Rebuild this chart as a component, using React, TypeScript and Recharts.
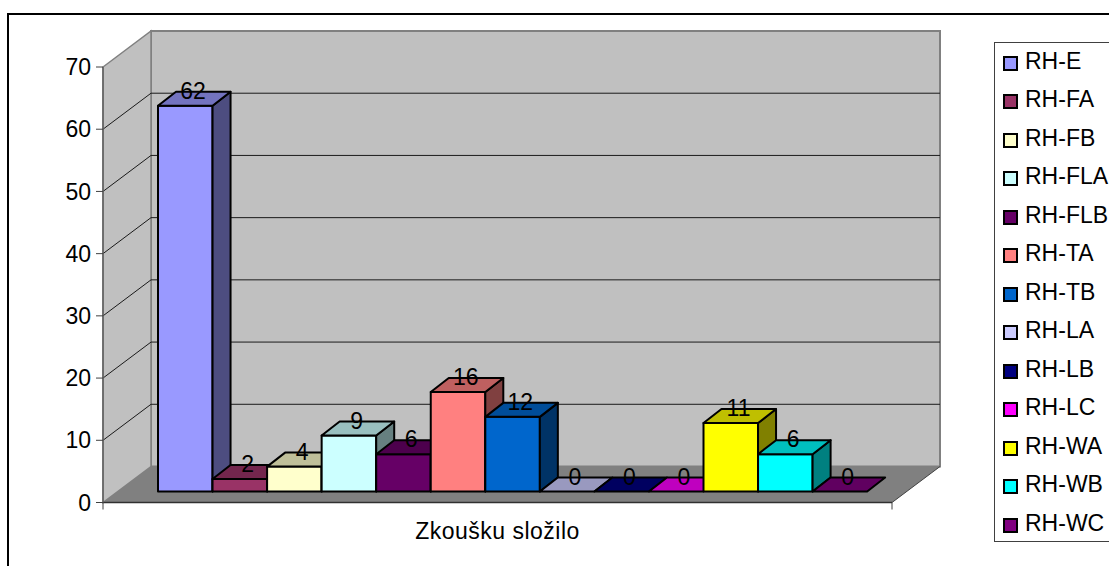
import { Bar, BarChart, CartesianGrid, LabelList, Legend, XAxis, YAxis, usePlotArea } from "recharts";

const CATEGORY = "Zkoušku složilo";
const SERIES_NAMES = ["RH-E", "RH-FA", "RH-FB", "RH-FLA", "RH-FLB", "RH-TA", "RH-TB", "RH-LA", "RH-LB", "RH-LC", "RH-WA", "RH-WB", "RH-WC"];
const SERIES_VALUES = [62, 2, 4, 9, 6, 16, 12, 0, 0, 0, 11, 6, 0];
const SERIES_COLORS = ["#9999ff", "#993366", "#ffffcc", "#ccffff", "#660066", "#ff8080", "#0066cc", "#ccccff", "#000080", "#ff00ff", "#ffff00", "#00ffff", "#800080"];
const Y_TICKS = [0, 10, 20, 30, 40, 50, 60, 70];

const FONT = "'Liberation Sans', Arial, sans-serif";
// depth of the chart box and of a single bar, and where bars sit inside the box
const BOX_DX = 48;
const BOX_DY = -36;
const BAR_DX = 18;
const BAR_DY = -14;
const SHIFT_X = 15;
const SHIFT_Y = -11;
// recharts rounds the bar width down, the gap carries the remainder
const BAR_GAP = 0.55;

const row: Record<string, string | number> = { name: CATEGORY };
SERIES_NAMES.forEach((n, i) => {
  row[n] = SERIES_VALUES[i];
});
const chartData = [row];

function shade(hex: string, k: number): string {
  const n = parseInt(hex.slice(1), 16);
  const c = [(n >> 16) & 255, (n >> 8) & 255, n & 255].map((v) => Math.round(v * k));
  return `rgb(${c[0]},${c[1]},${c[2]})`;
}

function pts(list: number[][]): string {
  return list.map((p) => p.join(",")).join(" ");
}

// walls and floor of the 3d box, taken from the plot area
function Box() {
  const plot = usePlotArea();
  if (!plot) return null;
  const l = plot.x;
  const r = plot.x + plot.width;
  const t = plot.y;
  const b = plot.y + plot.height;
  return (
    <g>
      <polygon points={pts([[l + BOX_DX, t + BOX_DY], [r + BOX_DX, t + BOX_DY], [r + BOX_DX, b + BOX_DY], [l + BOX_DX, b + BOX_DY]])} fill="#c0c0c0" stroke="#808080" strokeWidth={2} />
      <polygon points={pts([[l, t], [l + BOX_DX, t + BOX_DY], [l + BOX_DX, b + BOX_DY], [l, b]])} fill="#c0c0c0" stroke="#808080" strokeWidth={1.5} />
      <polygon points={pts([[l, b], [l + BOX_DX, b + BOX_DY], [r + BOX_DX, b + BOX_DY], [r, b]])} fill="#808080" />
      <line x1={l} y1={b} x2={l} y2={b + 7} stroke="#404040" />
      <line x1={r} y1={b} x2={r} y2={b + 7} stroke="#404040" />
      <line x1={r} y1={b} x2={r + BOX_DX} y2={b + BOX_DY} stroke="#404040" />
    </g>
  );
}

function GridLine(props: any) {
  const { x1, y1, x2, index } = props;
  if (index === 0 || index === Y_TICKS.length - 1) return <g />;
  return (
    <polyline
      points={pts([[x1, y1], [x1 + BOX_DX, y1 + BOX_DY], [x2 + BOX_DX, y1 + BOX_DY]])}
      fill="none"
      stroke="#1a1a1a"
      strokeWidth={1}
    />
  );
}

function Bar3D(props: any) {
  const { x, y, width, height, fill } = props;
  const l = x + SHIFT_X;
  const r = l + width + BAR_GAP;
  const t = y + SHIFT_Y;
  const b = t + height;
  return (
    <g stroke="#000" strokeWidth={2} strokeLinejoin="round">
      {height > 0 && <rect x={l} y={t} width={r - l} height={height} fill={fill} />}
      {height > 0 && <polygon points={pts([[r, t], [r + BAR_DX, t + BAR_DY], [r + BAR_DX, b + BAR_DY], [r, b]])} fill={shade(fill, 0.5)} />}
      <polygon points={pts([[l, t], [l + BAR_DX, t + BAR_DY], [r + BAR_DX, t + BAR_DY], [r, t]])} fill={shade(fill, 0.75)} />
    </g>
  );
}

function BarValue(props: any) {
  const { x, y, width, value } = props;
  return (
    <text x={x + width / 2 + SHIFT_X + 8} y={y + SHIFT_Y - 7} textAnchor="middle" fontFamily={FONT} fontSize={23} fill="#000">
      {value}
    </text>
  );
}

function LegendBox(props: any) {
  return (
    <div style={{ width: 116, height: 498, border: "1px solid #404040", background: "#fff", boxSizing: "content-box", position: "relative", fontFamily: FONT, fontSize: 23, color: "#000" }}>
      {props.payload.map((item: any, i: number) => (
        <div key={item.value} style={{ position: "absolute", left: 8, top: 3 + i * 38.5, height: 30, display: "flex", alignItems: "center", whiteSpace: "nowrap" }}>
          <span style={{ display: "inline-block", width: 11, height: 11, border: "2px solid #000", background: item.color, marginRight: 7, marginTop: 4 }} />
          {item.value}
        </div>
      ))}
    </div>
  );
}

export default function App() {
  return (
    <div style={{ position: "absolute", left: 0, top: 0, width: 1109, height: 566, overflow: "hidden", background: "#fff" }}>
      <div style={{ position: "absolute", left: 7, top: 13, width: 1200, height: 700, border: "2px solid #000", boxSizing: "border-box" }} />
      <div style={{ position: "absolute", left: 0, top: 0 }}>
        <BarChart width={1109} height={566} data={chartData} margin={{ top: 67, right: 99, bottom: 0, left: 8 }} barCategoryGap={40} barGap={BAR_GAP}>
          <Box />
          <CartesianGrid vertical={false} horizontal={GridLine} zIndex={1} />
          <XAxis dataKey="name" height={63.5} tickLine={false} axisLine={{ stroke: "#303030", strokeWidth: 1.5 }} tickMargin={14} tick={{ fontFamily: FONT, fontSize: 23, letterSpacing: 0.5, fill: "#000" }} />
          <YAxis width={95} domain={[0, 70]} ticks={Y_TICKS} interval={0} tickSize={7} tickMargin={5} tickLine={{ stroke: "#404040" }} axisLine={{ stroke: "#606060", strokeWidth: 1.5 }} tick={{ fontFamily: FONT, fontSize: 23, fill: "#000" }} />
          {SERIES_NAMES.map((n, i) => (
            <Bar key={n} dataKey={n} name={n} fill={SERIES_COLORS[i]} shape={Bar3D} isAnimationActive={false}>
              <LabelList dataKey={n} content={BarValue} />
            </Bar>
          ))}
          <Legend layout="vertical" align="right" verticalAlign="top" itemSorter={null} content={LegendBox} wrapperStyle={{ position: "absolute", left: 994, top: 42, width: 118, margin: 0 }} />
        </BarChart>
      </div>
    </div>
  );
}
